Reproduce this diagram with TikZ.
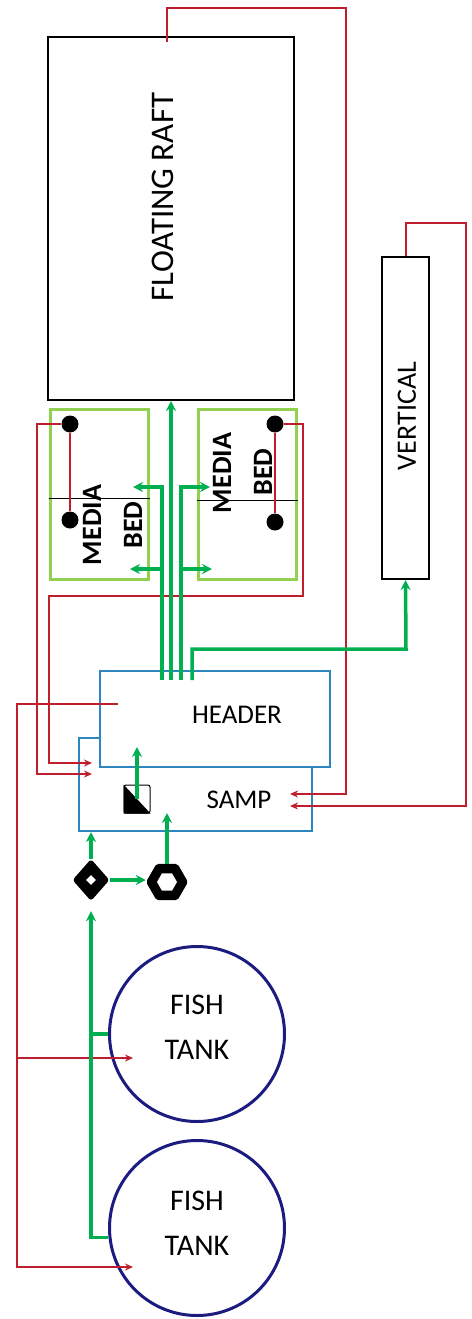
\documentclass[tikz,border=0pt]{standalone}
\usepackage{fontspec}
\setmainfont{Carlito}
\usepackage{tikz}
\usetikzlibrary{positioning, arrows, arrows.meta, shapes}
\usetikzlibrary{shapes.geometric}
\definecolor{pipered}{HTML}{BE1E2D}
\definecolor{pipegreen}{HTML}{00B050}
\definecolor{bedgreen}{HTML}{92D050}
\definecolor{sampblue}{HTML}{2E86C1}
\definecolor{tanknavy}{HTML}{1C1C80}
\tikzstyle{growblock} = [rectangle, draw, line width=2pt, inner sep=0pt]
\tikzstyle{bedblock} = [rectangle, draw=bedgreen, line width=3pt, inner sep=0pt,
minimum width=98pt, minimum height=170pt]
\tikzstyle{sumpblock} = [rectangle, draw=sampblue, fill=white, line width=2pt, inner sep=0pt]
\tikzstyle{fishblock} = [circle, draw=tanknavy, line width=3pt, minimum size=175pt, inner sep=0pt]
\tikzstyle{dotblock} = [circle, fill=black, minimum size=17pt, inner sep=0pt]
\tikzstyle{vtext} = [rotate=90, font=\fontsize{28}{30}\selectfont]
\tikzstyle{btext} = [rotate=90, font=\fontsize{28}{30}\selectfont\bfseries]
\tikzstyle{htext} = [font=\fontsize{27}{30}\selectfont]
\tikzstyle{ftext} = [align=center, font=\fontsize{30}{45}\selectfont]
\tikzstyle{redpipe} = [draw=pipered, line width=2pt]
\tikzstyle{redarrow} = [redpipe, -{Stealth[length=8pt,width=7pt]}]
\tikzstyle{greenpipe} = [draw=pipegreen, line width=3.5pt]
\tikzstyle{greenarrow} = [greenpipe, -{Stealth[length=10pt,width=10pt]}]
\begin{document}
\begin{tikzpicture}[x=1pt, y=-1pt]
                \useasboundingbox (0,0) rectangle (471,1319);
                \node (raft) [growblock, minimum width=246pt, minimum height=363pt] at (171,218.5) {};
                \node [vtext, font=\fontsize{33}{36}\selectfont] at (163,197) {FLOATING RAFT};
                \node (vert) [growblock, minimum width=47pt, minimum height=322pt] at (405.5,418) {};
                \node [vtext] at (407,416) {VERTICAL};
                \node (bedl) [bedblock] at (99,494) {};
                \node (bedr) [bedblock] at (247,494) {};
                \draw [thin] (bedl.west |- 0,498) -- (bedl.east |- 0,498);
                \draw [thin] (bedr.west |- 0,500) -- (bedr.east |- 0,500);
                \node [btext] at (92,525) {MEDIA};
                \node [btext] at (133,525) {BED};
                \node [btext] at (222,473) {MEDIA};
                \node [btext] at (263,472) {BED};
                \node (samp) [sumpblock, minimum width=233pt, minimum height=93pt] at (195.5,784.5) {};
                \node (header) [sumpblock, minimum width=230pt, minimum height=96pt] at (215,719) {};
                \node [htext] at (237,715) {HEADER};
                \node [htext] at (239,800) {SAMP};
                \node (filter) [rectangle, draw, rounded corners=2pt, line width=1pt, inner sep=0pt,
                        minimum width=26pt, minimum height=28pt] at (137,799) {};
                \fill (filter.north west) -- (filter.south west) -- (filter.south east) -- cycle;
                \node (valve) [diamond, fill=black, rounded corners=3pt, minimum width=37pt, minimum height=42pt, inner sep=0pt] at (91,880) {};
                \node [diamond, fill=white, minimum size=10pt, inner sep=0pt] at (valve.center) {};
                \node (pump) [regular polygon, regular polygon sides=6, fill=black, rounded corners=2pt, minimum size=42pt, inner sep=0pt] at (167,882) {};
                \node [regular polygon, regular polygon sides=6, fill=white, minimum size=20pt, inner sep=0pt] at (pump.center) {};
                \node (tank1) [fishblock] at (197,1034) {};
                \node (tank2) [fishblock] at (197,1228) {};
                \node [ftext] at (197,1027.5) {FISH\\TANK};
                \node [ftext] at (197,1223.5) {FISH\\TANK};
                \node (dotl1) [dotblock] at (70,424) {};
                \node (dotl2) [dotblock] at (70,520) {};
                \node (dotr1) [dotblock] at (275,424) {};
                \node (dotr2) [dotblock] at (275,522) {};
                \coordinate (samp1) at (290,794);
                \coordinate (samp2) at (290,806);
                \coordinate (samp3) at (92,763);
                \coordinate (samp4) at (92,774);
                \coordinate (head1) at (118,704);
                \coordinate (tank1in) at (133,1058);
                \coordinate (tank2in) at (133,1267);
                \draw [redarrow] ([xshift=-4pt,yshift=-6pt]raft.north) |- (346,8) |- (samp1);
                \draw [redarrow] (vert.north) |- (466,223) |- (samp2);
                \draw [redpipe] (dotl1) -- (dotl2);
                \draw [redpipe] (dotr1) -- (dotr2);
                \draw [redarrow] (dotl1) -| (37,774) -- (samp4);
                \draw [redarrow] (dotr1) -| (303,596) -| (49,763) -- (samp3);
                \draw [redarrow] (head1) -| (17,1267) -- (tank2in);
                \draw [redarrow] (17,1058) -- (tank1in);
                \coordinate (hd1) at (162,680);
                \coordinate (hd2) at (171,680);
                \coordinate (hd3) at (181,680);
                \coordinate (hd4) at (192,680);
                \draw [greenarrow] (hd2) -- (hd2 |- raft.south);
                \draw [greenarrow] (hd1) |- (133,487);
                \draw [greenarrow] (hd1 |- 0,569) -- (130,569);
                \draw [greenarrow] (hd3) |- (210,487);
                \draw [greenarrow] (hd3 |- 0,569) -- (212,569);
                \draw [greenarrow] (hd4) |- (406,649) -- (vert.south);
                \draw [greenarrow] (filter.center) -- (137,747);
                \draw [greenarrow] (valve.north) -- (valve.north |- samp.south);
                \draw [greenarrow] (valve.east) -- (pump.west |- valve.east);
                \draw [greenarrow] (pump.north) -- (pump.north |- 0,813);
                \draw [greenarrow] (tank2.186) -| ([yshift=-10pt]valve.south);
                \draw [greenpipe] (tank1.west) -- (tank1.west -| valve.south);
\end{tikzpicture}
\end{document}
